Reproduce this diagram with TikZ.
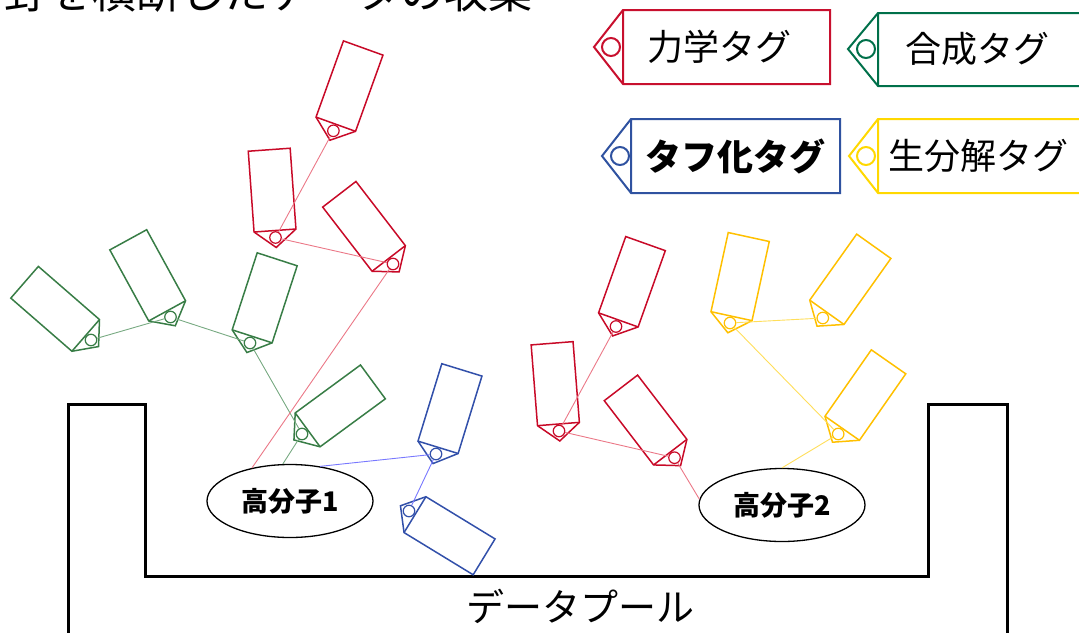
\documentclass[tikz,border=0pt]{standalone}
\usepackage{fontspec}
\setmainfont{Noto Sans CJK JP}
\usetikzlibrary{shapes.geometric}
\definecolor{lred}{RGB}{200,16,46}
\definecolor{lgreen}{RGB}{0,112,74}
\definecolor{lblue}{RGB}{47,82,160}
\definecolor{lyellow}{RGB}{255,216,0}
\definecolor{sred}{RGB}{200,10,40}
\definecolor{sgreen}{RGB}{56,125,70}
\definecolor{sblue}{RGB}{50,80,170}
\definecolor{syellow}{RGB}{255,192,0}
\definecolor{cred}{RGB}{235,120,135}
\definecolor{cgreen}{RGB}{120,170,130}
\definecolor{cblue}{RGB}{120,120,255}
\definecolor{cyellow}{RGB}{255,222,90}
\tikzset{
  pics/tagp/.style={code={
    \draw (-10,0) -- (7,21) -- (88,21) -- (88,-21) -- (7,-21) -- cycle;
    \draw (7,21) -- (7,-21);
  }},
  stag/.style={line width=1.5pt, line join=miter},
  hole/.style={circle, draw, minimum size=11.5pt, inner sep=0pt, line width=1.2pt},
  bighole/.style={circle, draw, minimum size=18pt, inner sep=0pt, line width=2pt},
  legbox/.style={line width=2pt},
  legtext/.style={anchor=west, inner sep=0pt, font=\fontsize{36pt}{40pt}\selectfont},
  conn/.style={line width=0.9pt},
  molecule/.style={ellipse, draw, line width=1.3pt, minimum width=166pt, minimum height=73pt, inner sep=0pt, font=\fontsize{27pt}{30pt}\selectfont\bfseries},
}
\begin{document}
\begin{tikzpicture}[x=1pt,y=-1pt]
\useasboundingbox (0,0) rectangle (1079,632);
% title (partly cut off at the top, as in the reference)
\node[anchor=base west, inner sep=0pt, font=\fontsize{44pt}{48pt}\selectfont] (title) at (-40,8) {分野を横断したデータの収集};
% legend
\draw[legbox, lred] (594,47) -- (623,10) -- (830,10) -- (830,84) -- (623,84) -- cycle (623,10) -- (623,84);
\node[bighole, lred] (lh1) at (611,47) {};
\node[legtext] (lt1) at (647,47) {力学タグ};
\draw[legbox, lgreen] (1090,13) -- (878,13) -- (848,49) -- (878,86) -- (1090,86) (878,13) -- (878,86);
\node[bighole, lgreen] (lh2) at (866,49) {};
\node[legtext] (lt2) at (905,49) {合成タグ};
\draw[legbox, lblue] (602,156) -- (631,119) -- (840,119) -- (840,193) -- (631,193) -- cycle (631,119) -- (631,193);
\node[bighole, lblue] (lh3) at (620,156) {};
\node[legtext, font=\fontsize{36pt}{40pt}\selectfont\bfseries] (lt3) at (645,156) {タフ化タグ};
\draw[legbox, lyellow] (1090,119) -- (878,119) -- (849,156) -- (878,193) -- (1090,193) (878,119) -- (878,193);
\node[bighole, lyellow] (lh4) at (866,156) {};
\node[legtext] (lt4) at (888,156) {生分解タグ};
% data pool
\draw[line width=3pt] (68,640) -- (68,404) -- (145,404) -- (145,576) -- (928,576) -- (928,404) -- (1007,404) -- (1007,640);
\node[inner sep=0pt, font=\fontsize{38pt}{42pt}\selectfont] (pool) at (580,606) {データプール};
% molecules
\node[molecule] (e1) at (290,501) {高分子1};
\node[molecule] (e2) at (782,505) {高分子2};
% green tags
\pic[stag, sgreen, rotate=139] at (91,340) {tagp};
\node[hole, sgreen] (g1) at (91,340) {};
\pic[stag, sgreen, rotate=118.7] at (170.5,317) {tagp};
\node[hole, sgreen] (g2) at (170.5,317) {};
\pic[stag, sgreen, rotate=72] at (250,343) {tagp};
\node[hole, sgreen] (g3) at (250,343) {};
\pic[stag, sgreen, rotate=36.3] at (302,434) {tagp};
\node[hole, sgreen] (g4) at (302,434) {};
% red tags left
\pic[stag, sred, rotate=70.2] at (333.4,130.8) {tagp};
\node[hole, sred] (r1) at (333.4,130.8) {};
\pic[stag, sred, rotate=94.1] at (275.5,237.5) {tagp};
\node[hole, sred] (r2) at (275.5,237.5) {};
\pic[stag, sred, rotate=127.6] at (393,264) {tagp};
\node[hole, sred] (r3) at (393,264) {};
% blue tags
\pic[stag, sblue, rotate=72.9] at (436,454) {tagp};
\node[hole, sblue] (b1) at (436,454) {};
\pic[stag, sblue, rotate=-31.4] at (409,511) {tagp};
\node[hole, sblue] (b2) at (409,511) {};
% red tags right
\pic[stag, sred, rotate=70.4] at (616,326.5) {tagp};
\node[hole, sred] (r4) at (616,326.5) {};
\pic[stag, sred, rotate=94.5] at (559,431) {tagp};
\node[hole, sred] (r5) at (559,431) {};
\pic[stag, sred, rotate=127.5] at (674.5,457.7) {tagp};
\node[hole, sred] (r6) at (674.5,457.7) {};
% yellow tags
\pic[stag, syellow, rotate=77.7] at (730,323) {tagp};
\node[hole, syellow] (y1) at (730,323) {};
\pic[stag, syellow, rotate=54.6] at (822.8,318) {tagp};
\node[hole, syellow] (y2) at (822.8,318) {};
\pic[stag, syellow, rotate=55.1] at (838.2,434) {tagp};
\node[hole, syellow] (y3) at (838.2,434) {};
% connectors
\draw[conn, cgreen] (g1) -- (g2);
\draw[conn, cgreen] (g2) -- (g3);
\draw[conn, cgreen] (g3) -- (g4);
\draw[conn, cgreen] (g4) -- (e1.101);
\draw[conn, cred] (r1) -- (r2);
\draw[conn, cred] (r2) -- (r3);
\draw[conn, cred] (r3) -- (e1.139);
\draw[conn, cblue] (e1.49) -- (b1);
\draw[conn, cblue] (b1) -- (b2);
\draw[conn, cred] (r4) -- (r5);
\draw[conn, cred] (r5) -- (r6);
\draw[conn, cred] (r6) -- (e2.176);
\draw[conn, cyellow] (e2.90) -- (y3);
\draw[conn, cyellow] (y3) -- (y1);
\draw[conn, cyellow] (y1) -- (y2);
\end{tikzpicture}
\end{document}
